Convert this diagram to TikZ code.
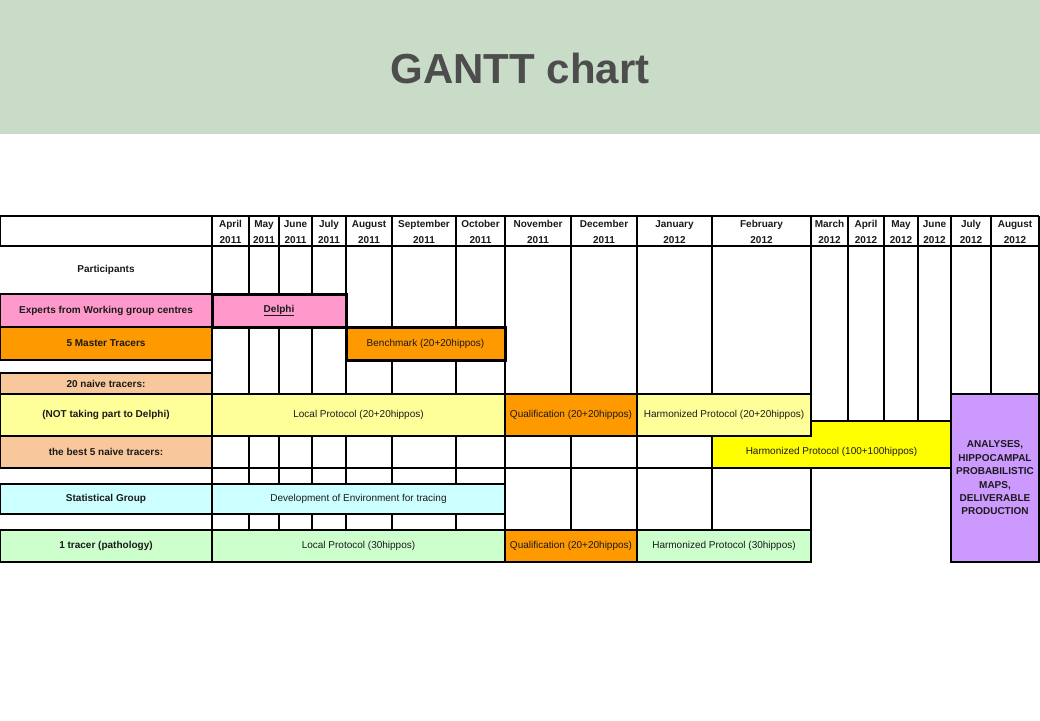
\documentclass[tikz,border=0pt]{standalone}
\usepackage{fontspec}
\setmainfont{Liberation Sans}
\definecolor{band}{HTML}{C8DCC8}
\definecolor{titlegray}{HTML}{4D4D4D}
\definecolor{cpink}{HTML}{FF99CC}
\definecolor{corange}{HTML}{FF9900}
\definecolor{cpeach}{HTML}{F8C89C}
\definecolor{clyellow}{HTML}{FFFF99}
\definecolor{cyellow}{HTML}{FFFF00}
\definecolor{ccyan}{HTML}{CCFFFF}
\definecolor{cgreen}{HTML}{CCFFCC}
\definecolor{cpurple}{HTML}{CC99FF}
\definecolor{ink}{HTML}{1A1A1A}
\tikzset{
  gline/.style={line width=1.3pt, draw=black},
  cell/.style={draw=black, line width=1.3pt, inner sep=0pt, outer sep=0pt,
    font=\fontsize{10}{12}\selectfont, text=ink},
  lbl/.style={cell, font=\bfseries\fontsize{10}{12}\selectfont},
  heavy/.style={line width=3pt},
  hdr/.style={font=\bfseries\fontsize{10}{15.5}\selectfont, align=center, inner sep=0pt, text=ink},
  plain/.style={inner sep=0pt, text=ink},
}
\newcommand\gbox[7]{%
  \node[cell,#6, minimum width={(#4-#2)*1pt}, minimum height={(#5-#3)*1pt}] (#1) at ({(#2+#4)/2},{(#3+#5)/2}) {#7};}
\begin{document}
\begin{tikzpicture}[x=1pt,y=-1pt]
\useasboundingbox (0,0) rectangle (1040,720);
\fill[white] (0,0) rectangle (1040,720);
\fill[band] (0,0) rectangle (1040,134);
\node[plain, text=titlegray, font=\bfseries\fontsize{42}{48}\selectfont] (title) at (520,68) {GANTT chart};

% grid lines
\draw[gline] (0,216) -- (1039,216);
\draw[gline] (0,246) -- (1039,246);
\draw[gline] (0,216) -- (0,246);
\draw[gline] (212,468) -- (712,468);
\foreach \x/\ya/\yb in {212/216/562,
  249/216/294, 249/327/394, 249/436/484, 249/514/530,
  279/216/294, 279/327/394, 279/436/484, 279/514/530,
  312/216/294, 312/327/394, 312/436/484, 312/514/530,
  346/216/394, 346/436/484, 346/514/530,
  392/216/394, 392/436/484, 392/514/530,
  456/216/394, 456/436/484, 456/514/530,
  505/216/562,
  571/216/394, 571/436/530,
  637/216/562,
  712/216/394, 712/436/530,
  811/216/394, 811/468/562,
  848/216/421, 884/216/421, 918/216/421,
  951/216/562, 991/216/394, 1039/216/562}
  \draw[gline] (\x,\ya) -- (\x,\yb);

% header
\foreach \a/\b/\m/\yy [count=\i] in {212/249/April/2011, 249/279/May/2011, 279/312/June/2011,
  312/346/July/2011, 346/392/August/2011, 392/456/September/2011, 456/505/October/2011,
  505/571/November/2011, 571/637/December/2011, 637/712/January/2012, 712/811/February/2012,
  811/848/March/2012, 848/884/April/2012, 884/918/May/2012, 918/951/June/2012,
  951/991/July/2012, 991/1039/August/2012}
  \node[hdr] (h\i) at ({(\a+\b)/2},232) {\m\\\yy};

\node[plain, font=\bfseries\fontsize{10}{12}\selectfont] (participants) at (106,270) {Participants};

% left column
\gbox{lExp}{0}{294}{212}{327}{lbl,fill=cpink}{Experts from Working group centres}
\gbox{lMaster}{0}{327}{212}{360}{lbl,fill=corange}{5 Master Tracers}
\gbox{lNaive}{0}{373}{212}{394}{lbl,fill=cpeach}{20 naive tracers:}
\gbox{lNot}{0}{394}{212}{436}{lbl,fill=clyellow}{(NOT taking part to Delphi)}
\gbox{lBest}{0}{436}{212}{468}{lbl,fill=cpeach}{the best 5 naive tracers:}
\gbox{lStat}{0}{484}{212}{514}{lbl,fill=ccyan}{Statistical Group}
\gbox{lPath}{0}{530}{212}{562}{lbl,fill=cgreen}{1 tracer (pathology)}

% bars
\gbox{bLocal}{212}{394}{505}{436}{fill=clyellow}{Local Protocol (20+20hippos)}
\gbox{bQualA}{505}{394}{637}{436}{fill=corange,line width=2pt}{Qualification (20+20hippos)}
\gbox{bYellow}{712}{421}{951}{468}{fill=cyellow}{}
\node[plain, font=\fontsize{10}{12}\selectfont] (tYellow) at (831.5,452) {Harmonized Protocol (100+100hippos)};
\gbox{bHarmA}{637}{394}{811}{436}{fill=clyellow}{Harmonized Protocol (20+20hippos)}
\gbox{bDev}{212}{484}{505}{514}{fill=ccyan}{Development of Environment for tracing}
\gbox{bLocalB}{212}{530}{505}{562}{fill=cgreen}{Local Protocol (30hippos)}
\gbox{bQualB}{505}{530}{637}{562}{fill=corange,line width=2pt}{Qualification (20+20hippos)}
\gbox{bHarmB}{637}{530}{811}{562}{fill=cgreen}{Harmonized Protocol (30hippos)}
\gbox{bAnal}{951}{394}{1039}{562}{lbl,fill=cpurple,align=center,font=\bfseries\fontsize{10}{13.4}\selectfont}{ANALYSES,\\HIPPOCAMPAL\\PROBABILISTIC\\MAPS,\\DELIVERABLE\\PRODUCTION}
\gbox{bDelphi}{212}{294}{346}{327}{lbl,heavy,fill=cpink}{\underline{Delphi}}
\gbox{bBench}{346}{327}{505}{360}{heavy,fill=corange}{Benchmark (20+20hippos)}
\end{tikzpicture}
\end{document}
